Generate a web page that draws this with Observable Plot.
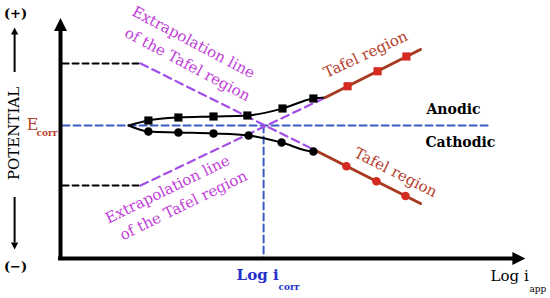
<!DOCTYPE html>
<html><head><meta charset="utf-8">
<script src="https://cdn.jsdelivr.net/npm/d3@7"></script>
<script src="https://cdn.jsdelivr.net/npm/@observablehq/plot@0.6"></script>
<style>html,body{margin:0;padding:0;background:#fff}</style>
</head><body><div id="chart"></div>
<script>
// ---- data (x = log i, arbitrary units; y = potential E, arbitrary units, Ecorr = 0) ----
const originLogI = [2.27];
const originE = [0];
const anodicLogI = [2.93, 3.93, 5.1, 6.23, 7.4, 8.43];
const anodicE = [0.2, 0.32, 0.36, 0.4, 0.68, 1.08];
const anodicTafelLogI = [9.57, 10.57, 11.53];
const anodicTafelE = [1.57, 2.17, 2.76];
const anodicTafelEndsLogI = [8.83, 12.0];
const anodicTafelEndsE = [1.12, 3.04];
const cathodicLogI = [2.93, 3.93, 5.1, 6.27, 7.37, 8.43];
const cathodicE = [-0.24, -0.28, -0.32, -0.4, -0.68, -1.04];
const cathodicTafelLogI = [9.53, 10.53, 11.5];
const cathodicTafelE = [-1.63, -2.23, -2.82];
const cathodicTafelEndsLogI = [8.5, 12.0];
const cathodicTafelEndsE = [-1.0, -3.12];
const upperExtrapLogI = [2.67, 8.5];
const upperExtrapE = [2.48, -1.0];
const lowerExtrapLogI = [2.67, 8.83];
const lowerExtrapE = [-2.4, 1.12];
const guideLevelsE = [2.48, -2.4];
const guideLogI = [0.07, 2.67];
const Ecorr = [0];
const EcorrLineLogI = [0.07, 14.27];
const logIcorr = [6.77];
const xDomain = [0, 15.5];
const yDomain = [-5.32, 4.28];

const pts = (xs, ys) => xs.map((x, i) => ({x, y: ys[i]}));

// custom filled arrow-head symbols
const mk = (dir) => ({draw(ctx, size) {
  const r = Math.sqrt(size / Math.PI);
  const P = {right: [[r,0],[-r,-r],[-r,r]], up: [[0,-r],[-r,r],[r,r]], down: [[0,r],[-r,-r],[r,-r]]}[dir];
  ctx.moveTo(P[0][0], P[0][1]); ctx.lineTo(P[1][0], P[1][1]); ctx.lineTo(P[2][0], P[2][1]); ctx.closePath();
}});
const triUp = mk("up"), triRight = mk("right"), triDown = mk("down");

const FONT = "DejaVu Serif";
const label = (t, x, y, o) => Plot.text([t], {x, y, text: d => d, fontFamily: FONT, ...o});

const extrapColor = "#c040d8";
const tafelColor = "#b4402c";
const brown = "#a83a22";
const red = "#d42a20";
const blue = "#3a5bc0";
const purple = "#a24ee6";

const chart = Plot.plot({
  width: 550, height: 298, margin: 0,
  x: {domain: xDomain, range: [60, 525], axis: null},
  y: {domain: yDomain, range: [258, 18], axis: null},
  style: {background: "white", fontFamily: FONT, overflow: "visible"},
  marks: [
    // guides
    ...guideLevelsE.map(e => Plot.line(pts(guideLogI, guideLogI.map(() => e)), {x: "x", y: "y", stroke: "black", strokeWidth: 2, strokeDasharray: "6,4"})),
    Plot.line(pts(EcorrLineLogI, EcorrLineLogI.map(() => Ecorr[0])), {x: "x", y: "y", stroke: blue, strokeWidth: 2, strokeDasharray: "7,4"}),
    Plot.line(pts([logIcorr[0], logIcorr[0]], [Ecorr[0], yDomain[0]]), {x: "x", y: "y", stroke: blue, strokeWidth: 2, strokeDasharray: "7,4"}),
    // extrapolation lines
    Plot.line(pts(upperExtrapLogI, upperExtrapE), {x: "x", y: "y", stroke: purple, strokeWidth: 2.2, strokeDasharray: "8,5"}),
    Plot.line(pts(lowerExtrapLogI, lowerExtrapE), {x: "x", y: "y", stroke: purple, strokeWidth: 2.2, strokeDasharray: "8,5"}),
    // polarization curves
    Plot.line(pts([...originLogI, ...anodicLogI, anodicTafelEndsLogI[0]], [...originE, ...anodicE, anodicTafelEndsE[0]]), {x: "x", y: "y", stroke: "black", strokeWidth: 2, curve: "monotone-x"}),
    Plot.line(pts([...originLogI, ...cathodicLogI, cathodicTafelEndsLogI[0]], [...originE, ...cathodicE, cathodicTafelEndsE[0]]), {x: "x", y: "y", stroke: "black", strokeWidth: 2, curve: "monotone-x"}),
    Plot.line(pts(anodicTafelEndsLogI, anodicTafelEndsE), {x: "x", y: "y", stroke: brown, strokeWidth: 3}),
    Plot.line(pts(cathodicTafelEndsLogI, cathodicTafelEndsE), {x: "x", y: "y", stroke: brown, strokeWidth: 3}),
    Plot.dot(pts(anodicLogI, anodicE), {x: "x", y: "y", symbol: "square", r: 4.6, fill: "black"}),
    Plot.dot(pts(cathodicLogI, cathodicE), {x: "x", y: "y", symbol: "circle", r: 4.3, fill: "black"}),
    Plot.dot(pts(anodicTafelLogI, anodicTafelE), {x: "x", y: "y", symbol: "square", r: 4.6, fill: red}),
    Plot.dot(pts(cathodicTafelLogI, cathodicTafelE), {x: "x", y: "y", symbol: "circle", r: 4.3, fill: red}),
    // axes
    Plot.ruleX([xDomain[0]], {y1: yDomain[0] - 0.08, y2: 3.8, stroke: "black", strokeWidth: 4}),
    Plot.ruleY([yDomain[0]], {x1: xDomain[0] - 0.066, x2: 15.1, stroke: "black", strokeWidth: 4}),
    Plot.dot([0], {x: xDomain[0], y: 4.04, symbol: triUp, r: 6.5, fill: "black"}),
    Plot.dot([0], {x: 15.28, y: yDomain[0], symbol: triRight, r: 6.5, fill: "black"}),
    // potential arrows on the left
    Plot.ruleX([-1.53], {y1: 2.12, y2: 3.7, stroke: "black", strokeWidth: 2}),
    Plot.ruleX([-1.53], {y1: -2.88, y2: -4.7, stroke: "black", strokeWidth: 2}),
    Plot.dot([0], {x: -1.53, y: 3.78, symbol: triUp, r: 3.6, fill: "black"}),
    Plot.dot([0], {x: -1.53, y: -4.82, symbol: triDown, r: 3.6, fill: "black"}),
    label("(+)", -1.5, 4.48, {fontSize: 13, fontWeight: "bold", fill: "black"}),
    label("(\u2212)", -1.5, -5.64, {fontSize: 13, fontWeight: "bold", fill: "black"}),
    label("POTENTIAL", -1.53, -0.32, {fontSize: 15, rotate: -90, fill: "black"}),
    label("E", -0.93, 0.04, {fontSize: 16, fill: "#b5412b"}),
    label("corr", -0.8, -0.3, {fontSize: 9, fontWeight: "bold", fill: "#b5412b", textAnchor: "start"}),
    // annotations
    label("Extrapolation line", 4.43, 3.32, {fontSize: 15, rotate: 28, fill: extrapColor}),
    label("of the Tafel region", 4.23, 2.44, {fontSize: 15, rotate: 28, fill: extrapColor}),
    label("Extrapolation line", 3.57, -2.56, {fontSize: 15, rotate: -26, fill: extrapColor}),
    label("of the Tafel region", 4.1, -3.2, {fontSize: 15, rotate: -26, fill: extrapColor}),
    label("Tafel region", 10.17, 2.84, {fontSize: 15, rotate: -25, fill: tafelColor}),
    label("Tafel region", 11.17, -1.88, {fontSize: 15, rotate: 27, fill: tafelColor}),
    label("Anodic", 13.1, 0.64, {fontSize: 14, fontWeight: "bold", fill: "black"}),
    label("Cathodic", 13.33, -0.68, {fontSize: 14, fontWeight: "bold", fill: "black"}),
    label("Log i", 6.57, -6.0, {fontSize: 15, fontWeight: "bold", fill: "#2630c8"}),
    label("corr", 7.27, -6.48, {fontSize: 9, fontWeight: "bold", fill: "#2630c8", textAnchor: "start"}),
    label("Log i", 14.97, -6.04, {fontSize: 15, fill: "black"}),
    label("app", 15.63, -6.56, {fontSize: 9, fill: "black", textAnchor: "start"})
  ]
});
document.getElementById("chart").append(chart);
</script>
</body></html>
